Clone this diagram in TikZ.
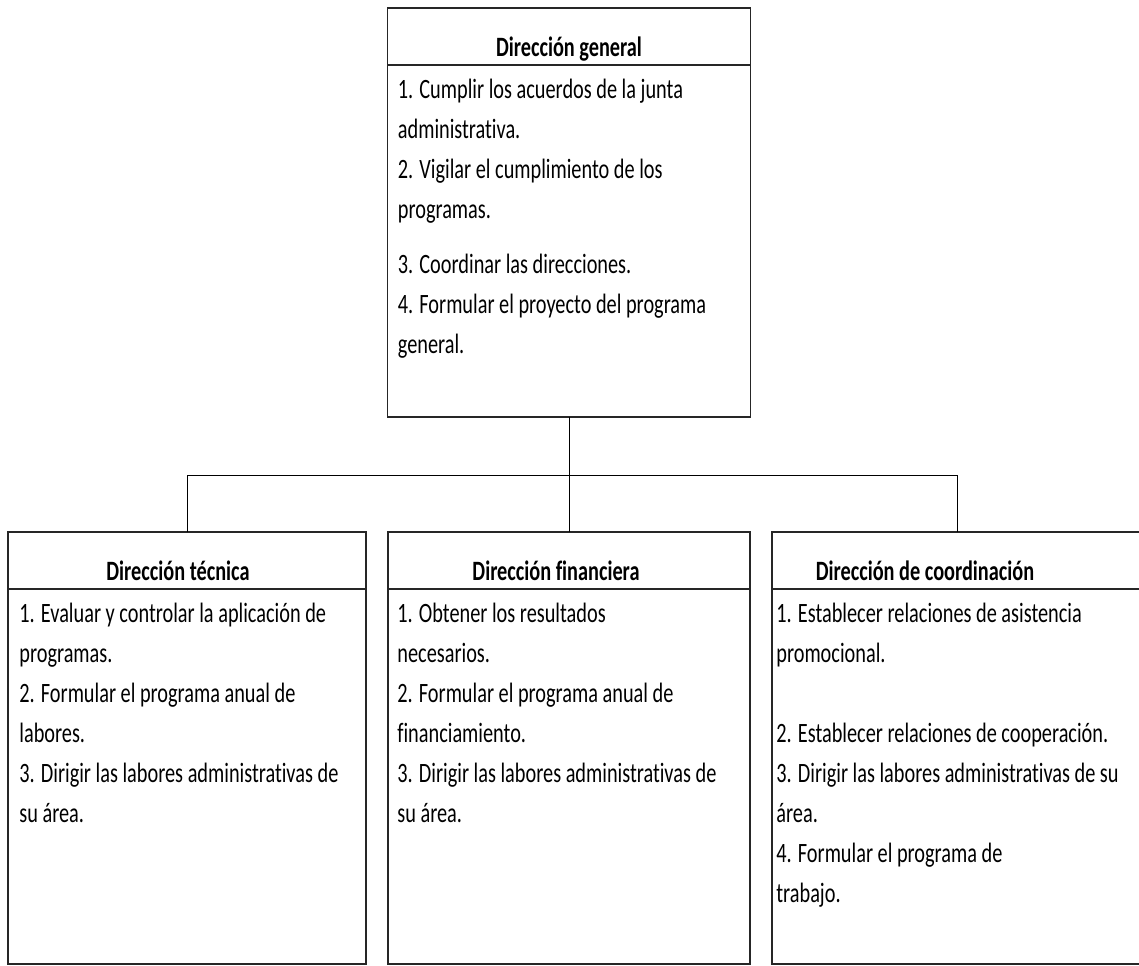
\documentclass[tikz,border=0pt]{standalone}
\usepackage{fontspec}
\setmainfont{Carlito}[FakeStretch=0.725, Ligatures=NoCommon]
\usepackage{tikz}
\usetikzlibrary{positioning, calc}

\begin{document}
\begin{tikzpicture}[
        x=0.5pt, y=-0.5pt,
        head/.style={draw=black!85, line width=0.75pt, outer sep=0pt, inner sep=0pt,
            minimum height=28.5pt, text height=24.25pt, text depth=4.25pt,
            font=\fontsize{14pt}{20pt}\selectfont\bfseries},
        body/.style={draw=black!85, line width=0.75pt, outer sep=0pt, inner sep=0pt},
        tasks/.style={anchor=base west, inner sep=0pt, text width=190pt, align=flush left,
            font=\fontsize{14pt}{20pt}\selectfont},
        link/.style={draw=black, line width=0.5pt}
    ]

    \useasboundingbox (0,0) rectangle (1139,965);

    % Dirección general
    \node[head, minimum width=181.5pt] (gen) at (569,36.5) {Dirección general};
    \node[body, minimum width=181.5pt, minimum height=176pt, below=0pt of gen] (genbody) {};
    \node[tasks] (genlist) at ($(genbody.north west)+(10,33)$) {
        1. Cumplir los acuerdos de la junta\\
        administrativa.\\
        2. Vigilar el cumplimiento de los\\
        programas.\\[7.5pt]
        3. Coordinar las direcciones.\\
        4. Formular el proyecto del programa\\
        general.
    };

    % Dirección técnica
    \node[head, minimum width=179pt] (tec) at (187,560.5) {Dirección técnica\kern9pt};
    \node[body, minimum width=179pt, minimum height=187.5pt, below=0pt of tec] (tecbody) {};
    \node[tasks] (teclist) at ($(tecbody.north west)+(11,33)$) {
        1. Evaluar y controlar la aplicación de\\
        programas.\\
        2. Formular el programa anual de\\
        labores.\\
        3. Dirigir las labores administrativas de\\
        su área.
    };

    % Dirección financiera
    \node[head, minimum width=181pt] (fin) at (569,560.5) {Dirección financiera\kern13pt};
    \node[body, minimum width=181pt, minimum height=187.5pt, below=0pt of fin] (finbody) {};
    \node[tasks] (finlist) at ($(finbody.north west)+(9,33)$) {
        1. Obtener los resultados\\
        necesarios.\\
        2. Formular el programa anual de\\
        financiamiento.\\
        3. Dirigir las labores administrativas de\\
        su área.
    };

    % Dirección de coordinación
    \node[head, minimum width=185pt] (coo) at (957,560.5) {Dirección de coordinación\kern32pt};
    \node[body, minimum width=185pt, minimum height=187.5pt, below=0pt of coo] (coobody) {};
    \node[tasks] (coolist) at ($(coobody.north west)+(4,33)$) {
        1. Establecer relaciones de asistencia\\
        promocional.\\[20pt]
        2. Establecer relaciones de cooperación.\\
        3. Dirigir las labores administrativas de su\\
        área.\\
        4. Formular el programa de\\
        trabajo.
    };

    % Lines
    \coordinate (bus) at (569,475);
    \draw[link] (genbody.south) -- (fin.north);
    \draw[link] (tec.north) |- (bus) -| (coo.north);

\end{tikzpicture}
\end{document}
